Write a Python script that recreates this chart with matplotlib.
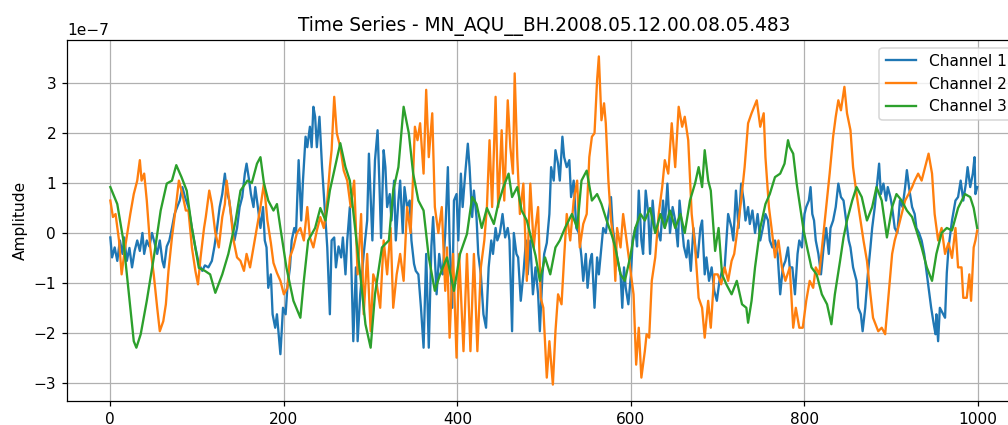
import matplotlib
matplotlib.use("Agg")
import matplotlib.pyplot as plt
import numpy as np

title = "Time Series - MN_AQU__BH.2008.05.12.00.08.05.483"
labels = ["Channel 1", "Channel 2", "Channel 3"]
scale = 1e-7

# (sample index, amplitude in units of 1e-7)
ch1 = [(0,-0.09),(2,-0.49),(5,-0.29),(8,-0.56),(11,-0.15),(14,-0.42),(16,-0.09),(19,-0.56),(22,-0.30),(25,-0.69),(28,-0.36),(31,-0.15),(34,-0.36),(37,0.00),(39,-0.42),(42,-0.15),(45,-0.27),(48,0.00),(51,-0.20),(54,-0.42),(57,-0.15),(60,-0.56),(62,-0.69),(65,-0.27),(68,-0.15),(71,0.10),(74,0.38),(77,0.52),(80,0.65),(83,0.92),(86,0.72),(90,0.52),(94,0.10),(98,-0.29),(102,-0.62),(106,-0.76),(109,-0.65),(113,-0.69),(117,-0.56),(120,-0.27),(123,0.10),(126,0.52),(129,0.78),(132,1.19),(134,0.85),(137,0.65),(140,0.25),(143,-0.15),(146,0.10),(149,0.52),(152,0.72),(155,1.19),(157,1.39),(160,1.05),(162,0.78),(165,0.52),(167,0.92),(170,0.52),(173,0.10),(176,0.52),(178,-0.15),(180,-0.29),(182,-1.10),(185,-0.83),(187,-1.63),(190,-1.90),(192,-1.63),(196,-2.43),(199,-1.50),(202,-1.63),(204,-1.10),(207,-0.69),(209,-0.15),(212,0.10),(214,0.00),(217,1.46),(220,0.25),(222,1.05),(225,1.93),(227,1.72),(230,2.13),(232,1.72),(234,2.53),(236,2.33),(238,1.72),(241,2.33),(244,1.32),(247,0.52),(250,-0.29),(253,-1.63),(255,-0.15),(258,-0.09),(260,-0.69),(263,-0.27),(266,-0.49),(268,-0.09),(271,-0.83),(273,-0.15),(276,0.52),(278,-0.83),(280,-2.17),(283,-0.69),(285,-2.17),(288,-1.23),(292,-0.42),(296,0.25),(298,1.59),(302,-0.15),(305,1.46),(308,2.06),(310,1.05),(312,-0.10),(315,1.66),(317,1.32),(319,0.52),(322,0.78),(324,0.25),(327,1.05),(329,-0.15),(332,0.65),(334,1.05),(337,0.00),(339,0.92),(342,0.52),(345,0.65),(347,-0.15),(350,-0.62),(352,-0.76),(355,-0.83),(358,-1.50),(361,-2.30),(364,-0.42),(367,-2.30),(370,-0.27),(372,0.32),(374,-0.49),(376,-1.23),(379,-0.42),(381,-0.69),(383,-0.83),(386,0.00),(389,1.32),(391,-0.15),(394,-1.50),(396,0.65),(399,0.78),(401,-0.15),(404,1.19),(406,0.52),(409,1.19),(412,1.79),(414,1.32),(417,0.32),(419,0.85),(422,0.32),(424,-0.42),(427,-0.83),(430,-1.63),(433,-1.90),(436,-0.69),(439,-0.15),(441,-0.42),(444,0.10),(446,-0.15),(449,0.00),(452,0.38),(455,-0.09),(458,0.10),(460,-0.15),(463,-1.97),(465,0.00),(468,-0.42),(470,-0.49),(473,-1.36),(476,-0.83),(479,-0.15),(481,-0.83),(484,-0.15),(487,-1.23),(490,-0.69),(493,-1.23),(495,-1.97),(498,-0.83),(500,-0.42),(503,-0.20),(506,0.38),(508,1.32),(511,1.05),(513,1.66),(516,1.39),(518,1.05),(521,1.93),(523,1.52),(526,1.32),(529,1.46),(531,0.72),(534,1.05),(537,0.10),(540,0.00),(543,-0.49),(545,-0.96),(548,-0.42),(550,-1.10),(553,-0.56),(555,-0.42),(558,-1.50),(561,-0.49),(563,-0.83),(566,-0.27),(568,0.10),(571,0.00),(574,0.38),(577,0.72),(579,0.10),(582,-0.27),(584,-0.49),(588,-0.83),(590,-1.50),(592,-0.69),(594,-1.10),(597,-1.43),(600,-0.83),(602,-0.15),(605,0.10),(607,-0.27),(609,0.85),(612,-0.15),(614,-0.42),(617,0.85),(620,0.38),(622,-0.42),(625,0.65),(628,0.00),(630,0.10),(634,-0.15),(637,0.65),(639,0.10),(642,0.99),(645,0.00),(648,0.52),(651,0.25),(654,-0.27),(656,0.65),(659,0.10),(661,-0.27),(664,-0.49),(666,-0.15),(669,-0.76),(672,0.10),(675,-0.42),(677,-0.49),(680,0.10),(682,0.25),(685,-0.83),(687,-0.49),(690,-0.96),(693,-0.69),(696,-1.16),(699,-1.36),(702,-0.96),(705,-0.76),(708,-0.69),(712,0.38),(716,0.10),(718,-0.15),(721,0.85),(724,0.10),(727,0.99),(730,0.65),(732,0.25),(735,0.52),(737,0.18),(740,0.45),(743,0.00),(746,0.38),(749,-0.15),(752,0.10),(755,0.38),(758,0.25),(760,-0.15),(763,-0.29),(766,-0.15),(769,-0.42),(772,-1.23),(775,-0.69),(778,-0.56),(781,-0.29),(783,-0.69),(786,-0.69),(789,-1.23),(792,-0.42),(794,-0.15),(797,-0.29),(800,0.38),(802,0.52),(805,0.65),(807,0.92),(809,0.38),(811,0.25),(813,-0.15),(816,-0.42),(819,-0.83),(822,-0.29),(825,0.10),(828,-0.42),(830,0.10),(833,0.25),(836,0.52),(839,0.99),(842,0.72),(845,0.65),(848,0.25),(851,-0.15),(853,-0.29),(856,-0.69),(860,-0.96),(862,-1.50),(865,-1.63),(867,-1.97),(870,-1.50),(873,-0.83),(876,-0.29),(878,0.10),(881,0.52),(884,1.05),(886,1.39),(888,0.78),(891,0.99),(894,0.65),(896,0.92),(899,0.72),(901,0.52),(904,0.10),(907,0.00),(910,0.65),(913,0.52),(916,0.92),(918,1.26),(921,0.85),(924,0.52),(927,0.38),(929,0.10),(932,0.00),(935,-0.15),(938,-0.42),(941,-0.83),(944,-1.23),(946,-1.50),(949,-1.83),(951,-2.03),(952,-1.63),(954,-2.17),(956,-1.50),(959,-1.60),(962,-1.70),(964,-0.80),(966,-0.30),(970,0.25),(974,0.65),(977,0.72),(980,1.05),(983,0.65),(986,0.99),(988,1.32),(991,0.92),(994,1.19),(996,1.52),(997,0.78),(999,0.92)]

ch2 = [(0,0.65),(3,0.32),(6,0.38),(10,-0.15),(13,-0.83),(17,-0.29),(23,0.38),(27,0.78),(31,1.05),(34,1.46),(36,1.05),(39,1.19),(42,0.65),(46,-0.29),(50,-0.83),(54,-1.50),(57,-1.97),(61,-1.77),(64,-1.43),(67,-0.76),(71,-0.09),(75,0.45),(79,1.05),(83,0.78),(87,0.45),(90,0.45),(94,-0.29),(98,-0.76),(101,-1.03),(104,-0.49),(108,0.10),(110,0.32),(114,0.85),(117,0.58),(121,0.00),(125,-0.29),(129,0.32),(132,0.58),(134,1.05),(138,0.52),(142,-0.15),(146,-0.49),(150,-0.56),(154,-0.76),(157,-0.42),(161,-0.69),(165,-0.29),(169,0.10),(173,0.52),(177,0.99),(181,0.25),(185,-0.20),(188,-0.60),(192,-0.80),(196,-0.96),(200,-1.23),(204,-1.10),(207,-0.49),(211,-0.29),(215,0.00),(219,0.10),(223,-0.15),(227,0.52),(230,-0.09),(234,-0.29),(238,0.05),(242,0.32),(246,0.10),(250,0.65),(253,1.32),(255,1.66),(258,2.73),(261,2.00),(265,1.72),(269,1.25),(273,1.05),(277,0.52),(281,1.05),(285,-0.83),(289,0.38),(292,-1.63),(296,-0.42),(300,-1.97),(303,-0.83),(307,-1.03),(311,-1.50),(315,-0.15),(319,-0.83),(323,0.10),(326,-1.50),(330,-0.83),(334,-0.42),(338,-0.96),(342,0.52),(346,0.00),(348,0.72),(351,2.13),(354,1.86),(357,2.20),(361,1.19),(364,2.87),(367,1.52),(371,2.40),(374,0.52),(378,0.00),(382,0.52),(386,-1.16),(388,-0.29),(391,-2.10),(395,-0.42),(399,-2.50),(402,-0.42),(407,-2.37),(411,-0.42),(415,-2.37),(419,-0.42),(423,-2.37),(427,-0.69),(431,-0.15),(434,0.52),(437,1.86),(440,0.52),(444,2.73),(447,0.52),(451,2.06),(454,0.65),(458,2.66),(461,1.72),(464,1.19),(466,3.20),(469,1.52),(472,0.38),(476,0.99),(480,-0.96),(484,0.99),(488,-0.29),(490,0.10),(493,0.52),(496,-1.30),(499,-1.50),(503,-2.90),(506,-2.17),(510,-3.04),(513,-1.97),(516,-1.23),(520,-1.43),(523,-0.49),(526,0.38),(530,-0.15),(534,0.65),(538,1.05),(541,-0.29),(545,0.18),(549,0.38),(552,1.52),(555,1.93),(558,2.00),(561,3.07),(563,3.54),(566,2.26),(569,2.60),(571,2.20),(574,1.05),(577,0.25),(580,-0.15),(582,-0.96),(584,0.10),(588,-0.29),(591,0.38),(595,-0.15),(599,-0.69),(603,-1.23),(606,-2.64),(609,-1.90),(612,-2.90),(616,-2.37),(618,-2.03),(621,-2.10),(624,-0.96),(628,-0.49),(632,0.38),(636,0.92),(639,1.46),(643,1.19),(647,2.20),(651,1.32),(655,2.53),(659,2.13),(662,2.33),(666,1.86),(670,0.38),(674,-0.29),(678,-1.30),(682,-1.50),(685,-2.10),(689,-1.36),(692,-1.90),(696,-0.83),(700,-0.83),(704,-1.03),(708,-0.69),(712,-0.96),(716,-0.56),(719,-0.42),(723,0.10),(727,0.65),(731,1.32),(735,2.20),(739,2.40),(742,2.53),(745,2.66),(749,2.13),(753,2.40),(755,1.52),(759,0.52),(762,0.10),(766,-0.49),(770,-0.15),(774,-0.69),(778,-0.96),(783,-0.69),(787,-1.90),(790,-1.50),(794,-1.90),(798,-1.90),(802,-1.36),(806,-0.96),(810,-1.10),(813,-0.69),(817,-0.83),(821,-0.15),(825,0.52),(829,1.19),(833,1.93),(836,2.33),(839,2.66),(842,2.46),(846,2.93),(849,2.40),(853,2.06),(856,1.32),(860,0.78),(864,0.32),(868,-0.15),(872,-0.56),(876,-1.23),(879,-1.70),(885,-1.97),(889,-1.90),(893,-2.03),(897,-1.23),(901,-0.42),(904,-0.15),(908,0.10),(912,0.38),(916,0.65),(920,0.78),(924,0.92),(927,1.05),(931,1.19),(935,1.05),(939,1.32),(943,1.59),(947,1.19),(950,0.38),(954,-0.15),(958,0.10),(962,-0.42),(966,-0.20),(970,-0.50),(974,0.10),(977,-0.69),(981,-0.69),(983,-1.30),(987,-1.30),(990,-0.83),(992,-1.36),(995,-0.29),(997,-0.15),(999,0.05)]

ch3 = [(0,0.92),(8,0.58),(15,-0.15),(21,-1.16),(27,-2.17),(30,-2.30),(35,-2.03),(42,-1.36),(50,-0.50),(58,0.45),(65,0.99),(71,1.05),(76,1.36),(82,1.12),(88,0.85),(94,0.10),(102,-0.70),(109,-0.76),(115,-0.83),(121,-1.20),(129,-0.83),(136,-0.42),(144,0.21),(150,0.85),(158,1.05),(163,1.00),(169,1.39),(173,1.52),(177,1.00),(182,0.65),(188,0.45),(192,0.58),(196,0.10),(203,-0.70),(211,-1.36),(219,-1.70),(223,-0.96),(228,-0.15),(236,0.10),(242,0.50),(248,0.25),(253,0.85),(259,1.32),(265,1.80),(271,1.32),(276,1.05),(282,0.10),(288,-0.83),(294,-1.83),(300,-2.30),(305,-1.23),(313,-0.29),(321,-0.15),(326,0.85),(332,1.32),(338,2.53),(344,2.00),(349,1.19),(355,0.65),(361,0.45),(367,-0.49),(374,-1.16),(380,-0.83),(388,-0.49),(396,-1.16),(403,-0.42),(411,-0.02),(417,0.72),(422,0.58),(428,0.10),(434,0.50),(442,0.18),(447,0.58),(453,0.92),(459,1.19),(463,0.72),(469,0.92),(474,0.45),(480,0.25),(490,-0.45),(495,-0.96),(501,-0.49),(507,-0.83),(513,-0.29),(518,-0.15),(524,0.10),(532,0.38),(538,0.10),(543,1.05),(549,1.25),(555,0.65),(561,0.78),(566,0.58),(572,0.25),(578,-0.05),(582,-0.29),(588,-0.83),(593,-0.96),(599,-0.49),(605,0.10),(611,0.38),(616,0.25),(622,0.50),(628,0.00),(634,0.38),(639,0.10),(645,0.45),(651,0.10),(657,0.38),(662,0.00),(668,0.65),(674,1.00),(678,1.32),(682,0.92),(685,1.66),(689,1.05),(692,0.85),(697,-0.36),(701,0.10),(705,-0.83),(710,-1.03),(716,-1.23),(722,-0.96),(728,-1.43),(733,-1.50),(735,-1.80),(739,-1.36),(743,-0.69),(749,0.10),(755,0.58),(760,0.78),(766,1.12),(772,1.19),(777,1.39),(781,1.86),(783,1.72),(787,1.59),(791,0.99),(795,0.52),(799,0.05),(803,-0.29),(808,-0.69),(814,-0.83),(820,-1.23),(826,-1.43),(831,-1.83),(835,-1.23),(841,-0.56),(845,-0.09),(849,0.25),(855,0.65),(860,0.92),(866,0.72),(872,0.25),(878,0.52),(883,0.92),(889,0.65),(895,-0.09),(901,0.52),(906,0.78),(912,0.65),(918,0.45),(924,0.32),(929,0.05),(935,-0.29),(941,-0.69),(947,-0.96),(952,-0.42),(958,0.00),(964,0.10),(970,0.05),(977,0.50),(985,0.78),(991,0.72),(995,0.50),(999,0.10)]

channels = [ch1, ch2, ch3]

DPI = 111
fig = plt.figure(figsize=(1008 / DPI, 425 / DPI), dpi=DPI)
ax = fig.add_axes([67 / 1008, 24 / 425, 953.5 / 1008, 361 / 425])

for data, lab in zip(channels, labels):
    t = np.array([p[0] for p in data])
    v = np.array([p[1] for p in data]) * scale
    ax.plot(t, v, label=lab)

ax.set_title(title)
ax.set_ylabel("Amplitude")
ax.grid(True)
ax.legend(loc="upper right")

fig.savefig("out.png", dpi=DPI)
